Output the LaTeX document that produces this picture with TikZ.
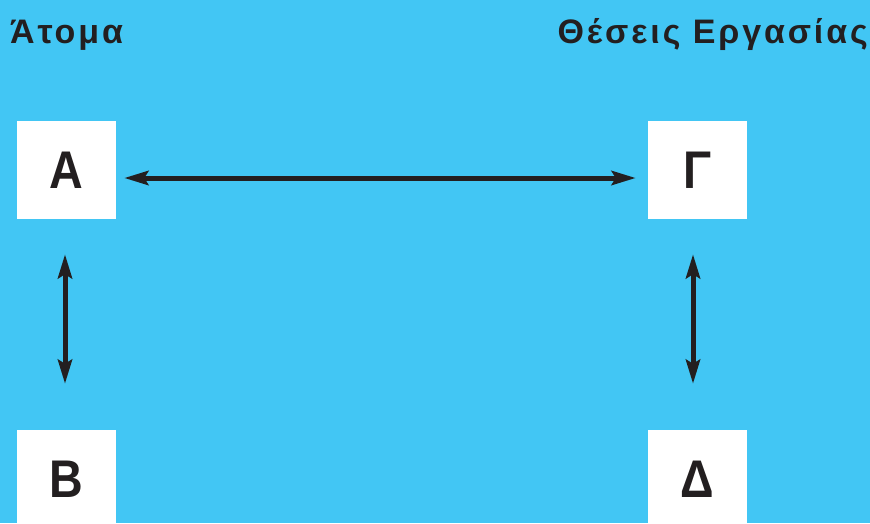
\documentclass[tikz,border=0pt]{standalone}
\usepackage{fontspec}
\setmainfont{Liberation Sans}
\usetikzlibrary{arrows.meta}
\definecolor{bgblue}{HTML}{42C6F4}
\definecolor{ink}{HTML}{231F20}
\newcommand{\narrow}[1]{\scalebox{0.88}[1]{#1}}
\tikzset{
  box/.style={fill=white, draw=none, minimum width=99pt, minimum height=98pt, inner sep=0pt, font=\fontsize{53}{53}\selectfont\bfseries, text=ink},
  title/.style={font=\fontsize{34}{34}\selectfont\bfseries\addfontfeature{LetterSpace=8.5}, text=ink, inner sep=0pt},
  arr/.style={draw=ink, line width=5pt, {Stealth[length=24pt,width=14pt,inset=4pt]}-{Stealth[length=24pt,width=14pt,inset=4pt]}}
}
\begin{document}
\begin{tikzpicture}[x=1pt,y=-1pt]
\clip (0,0) rectangle (870,523);
\fill[bgblue] (0,0) rectangle (870,523);
\node[title, anchor=base west] (t1) at (10,43) {Άτομα};
\node[title, anchor=base east] (t2) at (868,43) {Θέσεις Εργασίας};
\node[box] (A) at (66.5,170) {\narrow{A}};
\node[box] (G) at (697.5,170) {\narrow{Γ}};
\node[box] (B) at (66.5,479) {\narrow{B}};
\node[box] (D) at (697.5,479) {\narrow{Δ}};
\draw[arr] ([shift={(8,8)}]A.east) -- ([shift={(-12,8)}]G.west);
\draw[arr] ([shift={(-1.5,35)}]A.south) -- ([shift={(-1.5,-46)}]B.north);
\draw[arr] ([shift={(-4.5,35)}]G.south) -- ([shift={(-4.5,-46)}]D.north);
\end{tikzpicture}
\end{document}
